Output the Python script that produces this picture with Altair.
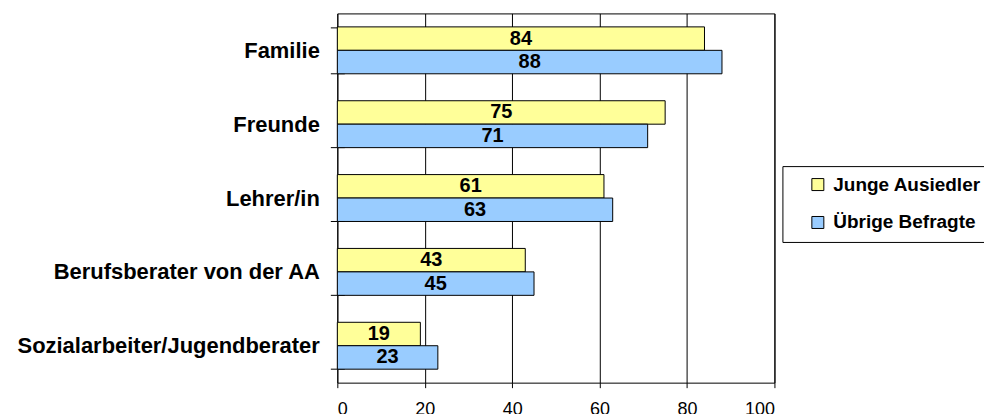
import altair as alt
import pandas as pd

categories = ["Familie", "Freunde", "Lehrer/in", "Berufsberater von der AA",
              "Sozialarbeiter/Jugendberater"]
series = ["Junge Ausiedler", "Übrige Befragte"]
junge = [84, 75, 61, 43, 19]
uebrige = [88, 71, 63, 45, 23]
x_ticks = [0, 20, 40, 60, 80, 100]
colors = ["#FFFF99", "#99CCFF"]

rows = []
for c, a, b in zip(categories, junge, uebrige):
    rows.append({"Kategorie": c, "Gruppe": series[0], "Wert": a})
    rows.append({"Kategorie": c, "Gruppe": series[1], "Wert": b})
df = pd.DataFrame(rows)

FONT = "Liberation Sans"

base = alt.Chart(df).encode(
    y=alt.Y(
        "Kategorie:N", sort=categories,
        scale=alt.Scale(paddingInner=0.365, paddingOuter=0.1825),
        axis=alt.Axis(title=None, domain=False, tickBand="extent", tickSize=14,
                      offset=-7, labelPadding=11, tickColor="black", tickWidth=1,
                      labelFont=FONT, labelFontSize=22, labelFontWeight="bold",
                      labelColor="black", labelLimit=500),
    ),
    yOffset=alt.YOffset("Gruppe:N", sort=series,
                        scale=alt.Scale(paddingInner=0, paddingOuter=0)),
)

bars = base.mark_bar(stroke="black", strokeWidth=1).encode(
    x=alt.X("Wert:Q", scale=alt.Scale(domain=[0, 100]),
            axis=alt.Axis(values=x_ticks, title=None, grid=True, gridColor="black",
                          gridOpacity=1, gridWidth=1, domain=False, tickSize=5,
                          tickColor="black", labelPadding=13, labelFont=FONT,
                          labelFontSize=18, labelColor="black")),
    color=alt.Color("Gruppe:N", scale=alt.Scale(domain=series, range=colors),
                    legend=alt.Legend(title=None, orient="none", legendX=446, legendY=153,
                                      strokeColor="black", fillColor="white", padding=9,
                                      symbolType="square", symbolSize=144,
                                      symbolStrokeColor="black", symbolStrokeWidth=1,
                                      symbolOffset=17, labelOffset=6,
                                      labelFont=FONT, labelFontSize=19,
                                      labelFontWeight="bold", labelColor="black",
                                      rowPadding=18, labelLimit=400)),
)

text = base.mark_text(font=FONT, fontSize=20, fontWeight="bold", color="black",
                      baseline="middle").transform_calculate(
    mid="datum.Wert / 2"
).encode(
    x=alt.X("mid:Q", title=None),
    text="Wert:Q",
)

chart = alt.layer(bars, text).properties(
    width=438, height=370,
    autosize=alt.AutoSizeParams(type="none"),
    padding={"left": 330, "top": 5, "right": 210, "bottom": 39},
).configure_view(stroke="black", strokeWidth=1)

chart.save("out.html", embed_options={"renderer": "svg", "actions": False})
